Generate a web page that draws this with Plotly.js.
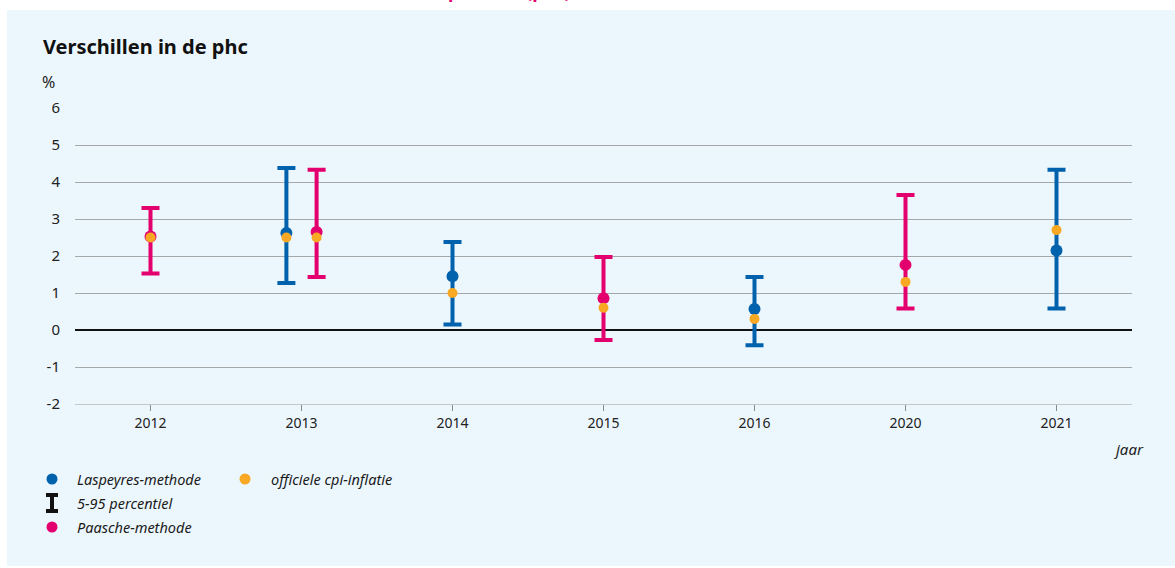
<!DOCTYPE html>
<html>
<head>
<meta charset="utf-8">
<script src="https://cdn.plot.ly/plotly-3.0.1.min.js"></script>
<style>
  html, body { margin: 0; padding: 0; background: #ffffff; }
  #panel { position: absolute; left: 7px; top: 10px; width: 1168px; height: 556px; background: #ECF7FD; }
  #chart { position: absolute; left: 0; top: 0; width: 1175px; height: 568px; }
</style>
</head>
<body>
<div id="panel"></div>
<div id="chart"></div>
<script>
// ---- data ----
const years = ['2012', '2013', '2014', '2015', '2016', '2020', '2021'];
const laspeyres    = [null, 2.62, 1.45, null, 0.57, null, 2.15];
const laspeyresP5  = [null, 1.27, 0.15, null, -0.41, null, 0.58];
const laspeyresP95 = [null, 4.38, 2.38, null, 1.43, null, 4.33];
const paasche      = [2.53, 2.65, null, 0.86, null, 1.76, null];
const paascheP5    = [1.53, 1.43, null, -0.27, null, 0.58, null];
const paascheP95   = [3.30, 4.33, null, 1.97, null, 3.65, null];
const cpi          = [2.5, 2.5, 1.0, 0.6, 0.3, 1.3, 2.7];
const yTicks = [-2, -1, 0, 1, 2, 3, 4, 5, 6];

// ---- styles ----
const BLUE = '#0062AD', PINK = '#E3006E', ORANGE = '#F8A823';
const FONT = 'Noto Sans, Open Sans, sans-serif';
const OFFSET = 0.1;

function positions(own, other, sign) {
  return years.map((_, i) => own[i] == null ? null : i + (other[i] != null ? sign * OFFSET : 0));
}
const xL = positions(laspeyres, paasche, -1);
const xP = positions(paasche, laspeyres, 1);

function methodTrace(name, xs, vals, p5, p95, color) {
  const idx = vals.map((v, i) => v == null ? -1 : i).filter(i => i >= 0);
  return {
    type: 'scatter', mode: 'markers', name: name, showlegend: false,
    x: idx.map(i => xs[i]), y: idx.map(i => vals[i]),
    marker: { color: color, size: 12 },
    error_y: {
      type: 'data', symmetric: false,
      array: idx.map(i => p95[i] - vals[i]),
      arrayminus: idx.map(i => vals[i] - p5[i]),
      color: color, thickness: 4, width: 9
    },
    hoverinfo: 'skip'
  };
}

const cpiX = [], cpiY = [];
years.forEach((_, i) => {
  if (xL[i] != null) { cpiX.push(xL[i]); cpiY.push(cpi[i]); }
  if (xP[i] != null) { cpiX.push(xP[i]); cpiY.push(cpi[i]); }
});

const traces = [
  methodTrace('Laspeyres-methode', xL, laspeyres, laspeyresP5, laspeyresP95, BLUE),
  methodTrace('Paasche-methode', xP, paasche, paascheP5, paascheP95, PINK),
  { type: 'scatter', mode: 'markers', name: 'officiele cpi-inflatie', showlegend: false,
    x: cpiX, y: cpiY, marker: { color: ORANGE, size: 10 }, hoverinfo: 'skip' }
];

// layout geometry helpers (plot area: x 75..1132, y 108..404)
const L = 75, R = 1132, T = 108, B = 404;
const px = v => (v - L) / (R - L);
const py = v => (B - v) / (B - T);

function dot(x, y, color, r) {
  return { type: 'circle', xref: 'paper', yref: 'paper', xsizemode: 'pixel', ysizemode: 'pixel',
    xanchor: px(x), yanchor: py(y), x0: -r, x1: r, y0: -r, y1: r,
    fillcolor: color, line: { width: 0 } };
}
function legendText(x, y, text) {
  return { xref: 'paper', yref: 'paper', x: px(x), y: py(y), xanchor: 'left', yanchor: 'middle',
    text: '<i>' + text + '</i>', showarrow: false, font: { family: FONT, size: 14.5, color: '#1a1a1a' } };
}

const layout = {
  width: 1175, height: 568,
  margin: { l: L, r: 1175 - R, t: T, b: 568 - B },
  paper_bgcolor: 'rgba(0,0,0,0)', plot_bgcolor: 'rgba(0,0,0,0)',
  showlegend: false,
  font: { family: FONT, size: 14, color: '#222' },
  xaxis: {
    range: [-0.5, years.length - 0.5],
    tickvals: years.map((_, i) => i), ticktext: years,
    showgrid: false, zeroline: false,
    showline: true, linecolor: '#c4c8cc', linewidth: 1,
    ticks: 'outside', ticklen: 6, tickcolor: '#8a8a8a', tickwidth: 1,
    tickfont: { family: FONT, size: 14, color: '#222' }, fixedrange: true
  },
  yaxis: {
    range: [-2, 6], tickvals: yTicks, ticktext: yTicks.map(String),
    showgrid: true, gridcolor: '#a4a8ab', gridwidth: 1,
    zeroline: true, zerolinecolor: '#111', zerolinewidth: 2,
    showline: false, ticks: '', ticklabelstandoff: 14,
    tickfont: { family: FONT, size: 15, color: '#222' }, fixedrange: true
  },
  shapes: [
    dot(52, 479, BLUE, 5.5),
    dot(245, 479, ORANGE, 5.5),
    dot(52, 527, PINK, 5.5),
    { type: 'path', xref: 'paper', yref: 'paper', xsizemode: 'pixel', ysizemode: 'pixel',
      xanchor: px(52), yanchor: py(503), path: 'M-6,8 H6 M0,8 V-8 M-6,-8 H6',
      line: { color: '#111', width: 4 } }
  ],
  annotations: [
    { xref: 'paper', yref: 'paper', x: px(41), y: py(46), xanchor: 'left', yanchor: 'middle',
      text: '<b>Verschillen in de phc</b>', showarrow: false,
      font: { family: FONT, size: 20, color: '#111' } },
    { xref: 'paper', yref: 'paper', x: px(40), y: py(82), xanchor: 'left', yanchor: 'middle',
      text: '%', showarrow: false, font: { family: FONT, size: 16, color: '#222' } },
    { xref: 'paper', yref: 'paper', x: px(1146), y: py(449), xanchor: 'right', yanchor: 'middle',
      text: '<i>jaar</i>', showarrow: false, font: { family: FONT, size: 15, color: '#222' } },
    { xref: 'paper', yref: 'paper', x: px(446), y: py(-9), xanchor: 'left', yanchor: 'middle',
      text: '<b>persoon (phc),</b>', showarrow: false, font: { family: FONT, size: 18, color: PINK } },
    legendText(75, 479, 'Laspeyres-methode'),
    legendText(269, 479, 'officiele cpi-inflatie'),
    legendText(75, 503, '5-95 percentiel'),
    legendText(75, 527, 'Paasche-methode')
  ]
};

Plotly.newPlot('chart', traces, layout, { displayModeBar: false, staticPlot: true });
</script>
</body>
</html>
